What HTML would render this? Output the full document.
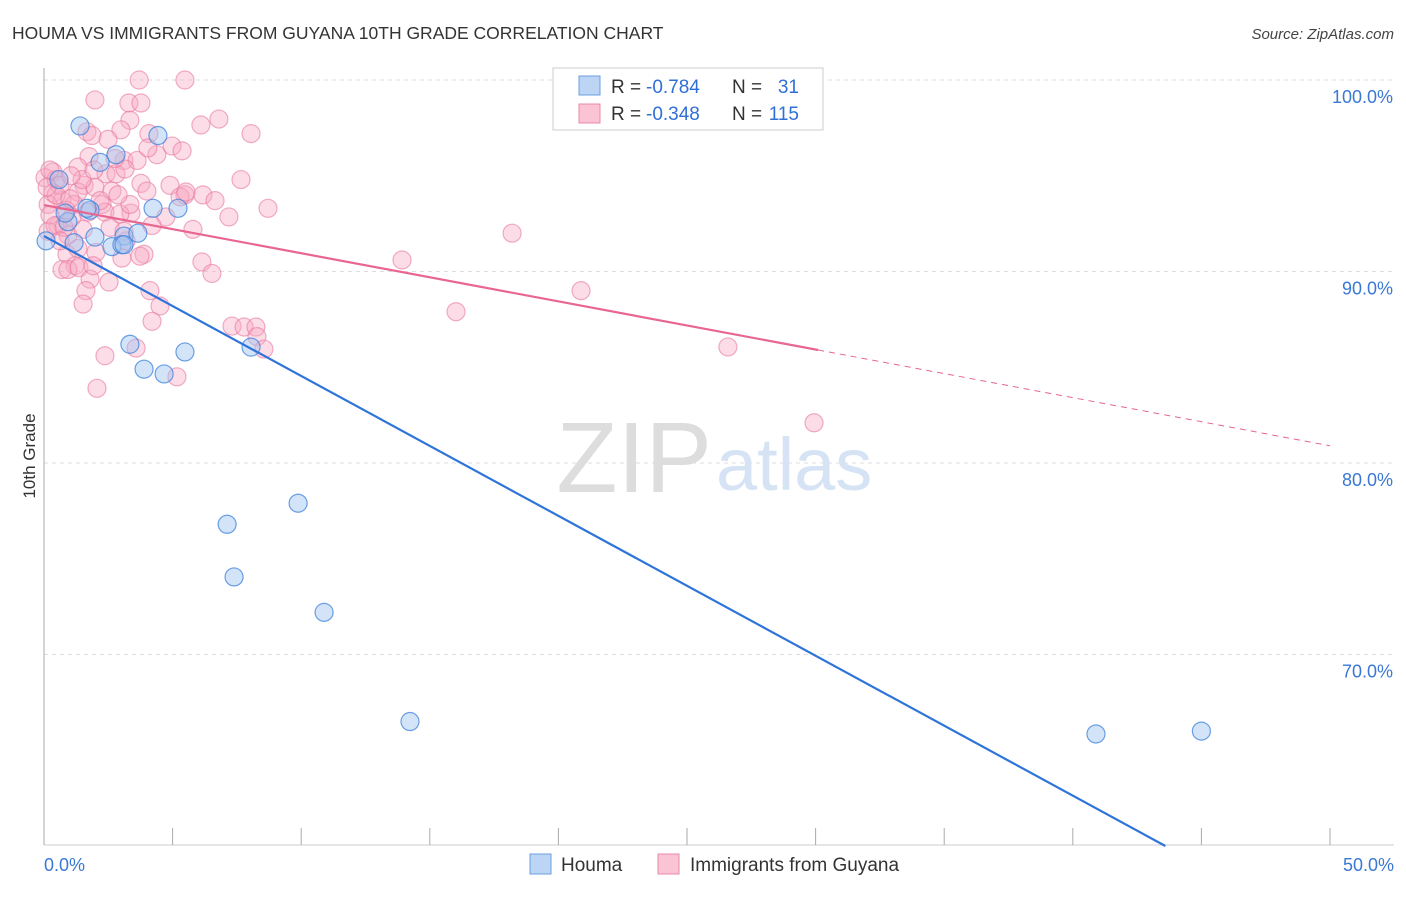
<!DOCTYPE html>
<html><head><meta charset="utf-8"><style>
body{margin:0;background:#fff;font-family:"Liberation Sans",sans-serif;}
svg text{font-family:"Liberation Sans",sans-serif;}
</style></head><body>
<svg id="chart" width="1406" height="892">
<text x="12" y="39" font-size="17.5" fill="#333">HOUMA VS IMMIGRANTS FROM GUYANA 10TH GRADE CORRELATION CHART</text>
<text x="1394" y="39" font-size="15" fill="#444" font-style="italic" text-anchor="end">Source: ZipAtlas.com</text>
<text x="35" y="456" font-size="17" fill="#333" text-anchor="middle" transform="rotate(-90 35 456)">10th Grade</text>
<g id="grid"></g>
<text x="712" y="492" font-size="100" fill="#dddddd" text-anchor="end" font-family="Liberation Serif">ZIP</text>
<text x="716" y="490" font-size="74" fill="#d6e3f5">atlas</text>
<g id="pts"></g>
<g id="lines"></g>
<g>
<rect x="553" y="68" width="270" height="62" fill="#fff" stroke="#ccc"/>
<rect x="579" y="76" width="21" height="19" fill="#bcd5f5" stroke="#6a9fe0"/>
<rect x="579" y="104" width="21" height="19" fill="#fac4d4" stroke="#e88aa8"/>
<text x="611" y="93" font-size="19" fill="#333">R =</text>
<text x="646" y="93" font-size="19" fill="#2f6fd6">-0.784</text>
<text x="732" y="93" font-size="19" fill="#333">N =</text>
<text x="799" y="93" font-size="19" fill="#2f6fd6" text-anchor="end">31</text>
<text x="611" y="120" font-size="19" fill="#333">R =</text>
<text x="646" y="120" font-size="19" fill="#2f6fd6">-0.348</text>
<text x="732" y="120" font-size="19" fill="#333">N =</text>
<text x="799" y="120" font-size="19" fill="#2f6fd6" text-anchor="end">115</text>
</g>
<g>
<rect x="530" y="854" width="21" height="20" fill="#bcd5f5" stroke="#6a9fe0"/>
<text x="561" y="871" font-size="19" fill="#333">Houma</text>
<rect x="658" y="854" width="21" height="20" fill="#fac4d4" stroke="#e88aa8"/>
<text x="690" y="871" font-size="19" fill="#333">Immigrants from Guyana</text>
</g>
</svg>
<script>
const xTicks=[0,5,10,15,20,25,30,35,40,45,50];
const yTicks=[100,90,80,70];
const yTickLabels=["100.0%","90.0%","80.0%","70.0%"];
const xEndLabels=["0.0%","50.0%"];
const houmaX=[1.40,4.43,2.80,2.18,0.58,4.24,5.21,1.79,0.93,1.98,3.11,3.65,2.64,3.03,1.17,0.08,3.34,5.48,8.05,3.89,4.67,9.88,7.12,7.39,10.89,14.23,40.9,45.0,0.82,1.67,3.11];
const houmaY=[97.6,97.1,96.1,95.7,94.8,93.3,93.3,93.2,92.6,91.8,91.85,92.0,91.3,91.4,91.5,91.6,86.2,85.8,86.05,84.9,84.65,77.9,76.8,74.05,72.2,66.5,65.85,66.0,93.05,93.3,91.4];
const guyX=[3.7,5.48,1.98,3.30,3.77,6.80,6.10,3.34,2.99,1.67,1.87,4.08,8.05,4.98,5.37,2.49,1.75,4.39,3.11,3.62,1.32,0.35,0.04,0.47,2.41,2.80,3.15,7.66,3.77,4.90,1.56,1.98,5.48,6.18,4.00,6.65,5.29,2.64,0.35,1.32,0.70,0.16,1.17,2.26,8.71,2.37,3.38,2.95,7.19,4.74,4.20,5.79,0.54,0.16,0.93,1.52,3.19,3.89,3.03,2.02,0.89,1.21,0.70,0.93,1.36,6.14,6.53,1.79,2.53,1.63,4.12,1.52,4.51,4.20,7.31,7.78,8.24,8.28,8.55,3.58,2.37,5.17,2.06,13.92,18.20,20.88,16.02,26.59,29.94,0.62,0.86,1.09,0.23,0.43,0.78,1.71,2.18,2.57,3.73,0.47,0.12,1.01,1.48,1.94,2.76,3.34,0.62,1.32,3.11,4.04,5.52,2.88,1.05,1.91,0.23];
const guyY=[100.0,100.0,98.96,98.8,98.8,97.96,97.65,97.9,97.4,97.3,97.1,97.2,97.2,96.55,96.3,96.9,96.0,96.1,95.8,95.8,95.45,95.2,94.9,94.8,95.1,95.1,95.35,94.8,94.6,94.5,94.5,94.4,94.0,94.0,94.2,93.7,93.9,94.2,94.1,94.15,93.7,93.5,93.5,93.5,93.3,93.1,93.05,93.0,92.85,92.85,92.4,92.2,92.4,92.1,91.9,92.2,91.6,90.9,90.7,91.0,90.9,90.3,90.1,90.1,90.2,90.5,89.9,89.6,89.45,89.0,89.0,88.3,88.2,87.4,87.15,87.1,87.1,86.6,85.95,86.0,85.6,84.5,83.9,90.6,92.0,89.0,87.9,86.06,82.1,94.5,93.2,92.85,92.95,92.4,92.3,93.1,93.7,92.3,90.8,94.0,94.4,93.8,94.8,95.3,95.9,93.5,91.6,91.2,92.1,96.45,94.15,94.0,95.0,90.3,95.3];
const houmaTrend=[[0,91.85],[43.6,60]];
const guyTrend=[[0,93.47],[30.1,85.9],[50,80.9]];
const NS="http://www.w3.org/2000/svg";
const X=v=>44+v*25.72, Y=v=>80+(100-v)*19.15;
function mk(tag,attrs,parent){const e=document.createElementNS(NS,tag);for(const k in attrs)e.setAttribute(k,attrs[k]);parent.appendChild(e);return e;}
const grid=document.getElementById('grid');
yTicks.forEach((t,i)=>{
 const l=mk('line',{x1:44,x2:1394,y1:Y(t),y2:Y(t),stroke:'#ddd','stroke-dasharray':'4,4'},grid);
 
 
 const tx=mk('text',{x:1393,y:Y(t)+23,'font-size':18,fill:'#3a78d4','text-anchor':'end'},grid);
 tx.textContent=yTickLabels[i];
 
 
});
const ax=mk('line',{x1:44,x2:44,y1:68,y2:845,stroke:'#aaa'},grid);


const bx=mk('line',{x1:44,x2:1394,y1:845,y2:845,stroke:'#ccc'},grid);


xTicks.forEach(t=>{
 const l=mk('line',{x1:X(t),x2:X(t),y1:828,y2:845,stroke:'#aaa'},grid);
 
 
});
[[0,'start',44],[50,'end',1394]].forEach((a,i)=>{
 const tx=mk('text',{x:a[2],y:871,'font-size':18,fill:'#3a78d4','text-anchor':a[1]},grid);
 tx.textContent=xEndLabels[i];
 
 
});
const pts=document.getElementById('pts');
guyX.forEach((x,i)=>{
 const c=mk('circle',{cx:X(x),cy:Y(guyY[i]),r:9,fill:'rgba(247,170,195,0.4)',stroke:'rgba(232,120,160,0.6)','stroke-width':1.2},pts);
 
 
});
houmaX.forEach((x,i)=>{
 const c=mk('circle',{cx:X(x),cy:Y(houmaY[i]),r:9,fill:'rgba(160,196,240,0.45)',stroke:'rgba(60,130,220,0.75)','stroke-width':1.2},pts);
 
 
});
const lines=document.getElementById('lines');
const hl=mk('line',{x1:X(houmaTrend[0][0]),y1:Y(houmaTrend[0][1]),x2:X(houmaTrend[1][0]),y2:Y(houmaTrend[1][1]),stroke:'#2f74d9','stroke-width':2.2},lines);


const gl=mk('line',{x1:X(guyTrend[0][0]),y1:Y(guyTrend[0][1]),x2:X(guyTrend[1][0]),y2:Y(guyTrend[1][1]),stroke:'#e8668f','stroke-width':2.2},lines);


const gd=mk('line',{x1:X(guyTrend[1][0]),y1:Y(guyTrend[1][1]),x2:X(guyTrend[2][0]),y2:Y(guyTrend[2][1]),stroke:'#e8668f','stroke-width':1,'stroke-dasharray':'6,5'},lines);


</script>
</body></html>
